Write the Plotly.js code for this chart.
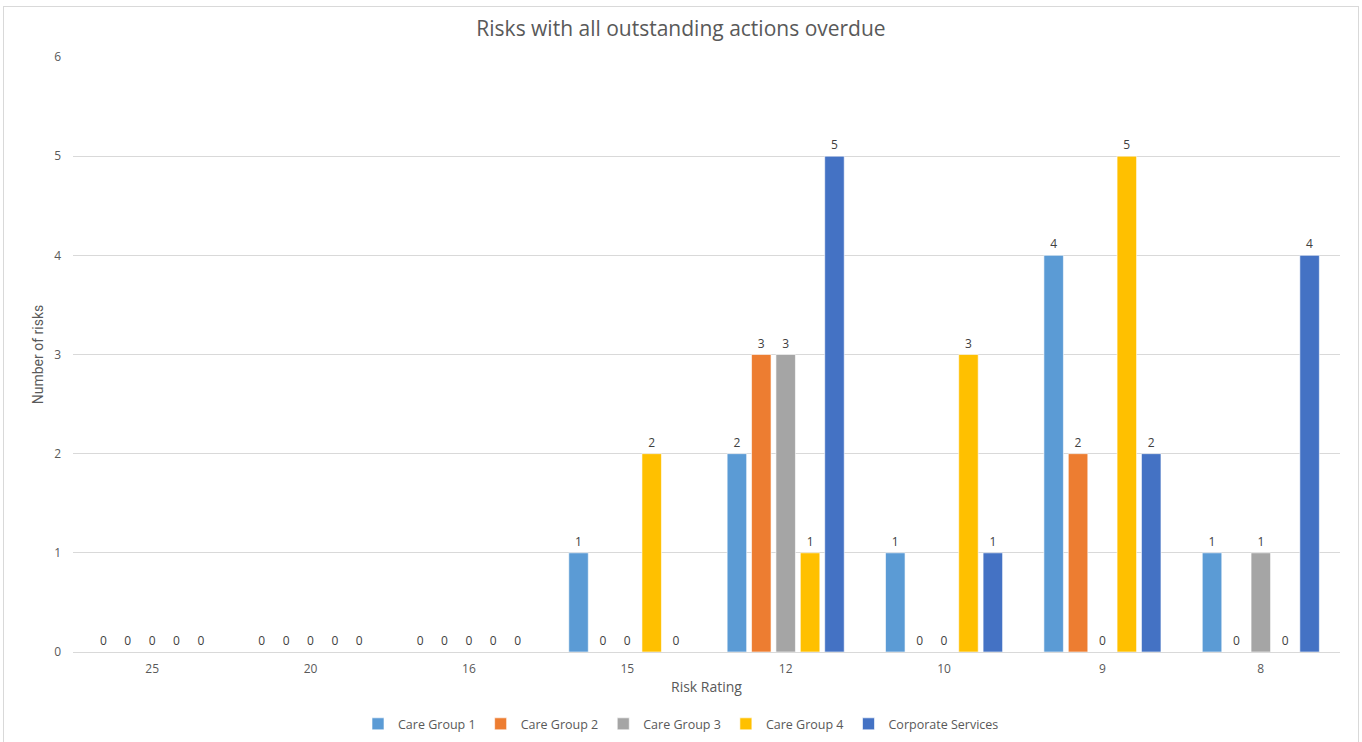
<!DOCTYPE html>
<html>
<head>
<meta charset="utf-8">
<script src="https://cdn.plot.ly/plotly-3.0.1.min.js"></script>
<style>
html,body{margin:0;padding:0;background:#fff;}
#chart{width:1362px;height:742px;}
#frame{position:absolute;left:3px;top:6px;width:1354px;height:740px;border:1px solid #d9d9d9;pointer-events:none;}
</style>
</head>
<body>
<div id="chart"></div>
<div id="frame"></div>
<script>
const categories = ['25','20','16','15','12','10','9','8'];
const seriesNames = ['Care Group 1','Care Group 2','Care Group 3','Care Group 4','Corporate Services'];
const careGroup1 = [0,0,0,1,2,1,4,1];
const careGroup2 = [0,0,0,0,3,0,2,0];
const careGroup3 = [0,0,0,0,3,0,0,1];
const careGroup4 = [0,0,0,2,1,3,5,0];
const corporateServices = [0,0,0,0,5,1,2,4];
const colors = ['#5b9bd5','#ed7d31','#a5a5a5','#ffc000','#4472c4'];
const allSeries = [careGroup1,careGroup2,careGroup3,careGroup4,corporateServices];

const font = 'Open Sans, Noto Sans, sans-serif';
const traces = allSeries.map((vals,i)=>({
  type:'bar',
  name:seriesNames[i],
  x:categories,
  y:vals,
  marker:{color:colors[i], line:{color:'rgba(255,255,255,0.6)', width:1}},
  text:vals.map(String),
  textposition:'outside',
  cliponaxis:false,
  textfont:{family:font,size:12,color:'#404040'},
  hoverinfo:'x+y+name'
}));

const layout = {
  width:1362, height:742,
  margin:{l:73,r:22,t:57,b:90},
  paper_bgcolor:'#ffffff', plot_bgcolor:'#ffffff',
  font:{family:font,color:'#595959',size:12},
  title:{text:'Risks with all outstanding actions overdue', font:{family:font,size:21,color:'#595959'}, x:0.5, xanchor:'center', xref:'container', yref:'container', y:0.961, yanchor:'middle'},
  barmode:'group',
  bargap:0.23,
  bargroupgap:0.2,
  xaxis:{
    type:'category',
    title:{text:'Risk Rating', font:{family:font,size:14,color:'#595959'}, standoff:6},
    tickfont:{family:font,size:12,color:'#595959'},
    ticklabelstandoff:8,
    showgrid:false, zeroline:false, showline:false, ticks:'', ticklen:0,
    automargin:false
  },
  yaxis:{
    range:[0,6], dtick:1, tick0:0,
    title:{text:'Number of risks', font:{family:'Liberation Sans Narrow, Roboto, sans-serif',size:14,color:'#595959'}, standoff:7},
    tickfont:{family:font,size:12,color:'#595959'},
    ticklabelstandoff:11,
    showgrid:true, gridcolor:'#d9d9d9', gridwidth:1,
    zeroline:true, zerolinecolor:'#d9d9d9', zerolinewidth:1,
    showline:false, ticks:'', ticklen:0,
    automargin:false
  },
  legend:{
    orientation:'h', x:0.5, xanchor:'center', xref:'container',
    yref:'container', y:0.024, yanchor:'middle',
    font:{family:font,size:12.5,color:'#595959'},
    itemwidth:30, traceorder:'normal'
  },
  showlegend:true
};

Plotly.newPlot('chart', traces, layout, {displayModeBar:false, responsive:false});
</script>
</body>
</html>
